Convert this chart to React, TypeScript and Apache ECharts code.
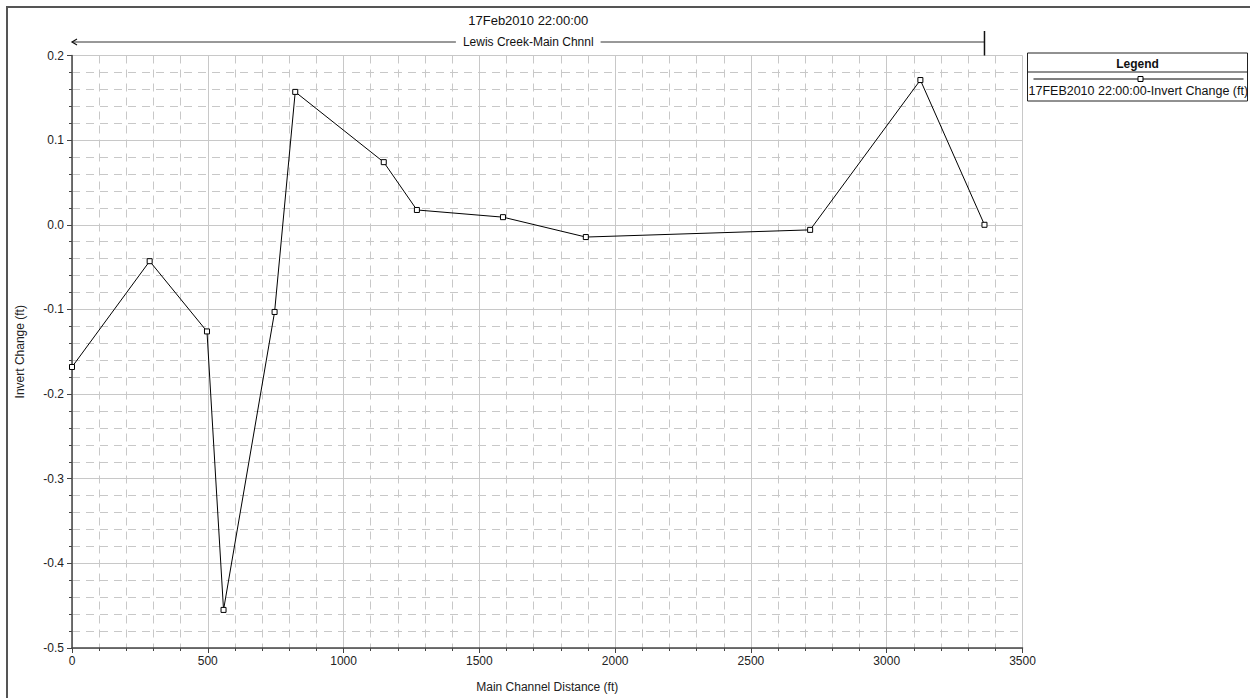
import React, { useEffect, useRef } from "react";
import * as echarts from "echarts";

const chartTitle = "17Feb2010 22:00:00";
const reachName = "Lewis Creek-Main Chnnl";
const seriesName = "17FEB2010 22:00:00-Invert Change (ft)";
const xAxisName = "Main Channel Distance (ft)";
const yAxisName = "Invert Change (ft)";

const stations = [0, 286, 497, 558, 746, 822, 1148, 1270, 1587, 1892, 2718, 3124, 3360];
const invertChange = [-0.168, -0.043, -0.126, -0.455, -0.103, 0.157, 0.074, 0.0175, 0.009, -0.0145, -0.006, 0.171, 0.0];

const FONT = "'Liberation Sans', Arial, sans-serif";

export default function App() {
  const ref = useRef<HTMLDivElement>(null);
  useEffect(() => {
    if (!ref.current) return;
    const chart = echarts.init(ref.current, undefined, { renderer: "svg", width: 1250, height: 698 });
    const gridColor = "#c8c8c8";
    const axisColor = "#444";
    chart.setOption({
      animation: false,
      backgroundColor: "#fff",
      textStyle: { fontFamily: FONT },
      grid: { left: 72, top: 55.5, width: 950.5, height: 597, containLabel: false },
      xAxis: {
        type: "value",
        min: 0,
        max: 3500,
        interval: 500,
        name: xAxisName,
        nameLocation: "middle",
        nameGap: 33,
        nameTextStyle: { fontFamily: FONT, fontSize: 12, color: "#222" },
        axisLine: { show: true, onZero: false, lineStyle: { color: axisColor, width: 1.5 } },
        axisTick: { show: true, length: 5, lineStyle: { color: axisColor } },
        minorTick: { show: true, splitNumber: 5, length: 3, lineStyle: { color: axisColor } },
        axisLabel: { fontFamily: FONT, fontSize: 12, color: "#222", margin: 7, formatter: (v: number) => String(v) },
        splitLine: { show: true, lineStyle: { color: gridColor, width: 1 } },
        minorSplitLine: { show: true, lineStyle: { color: gridColor, width: 1, type: [8, 6] } },
      },
      yAxis: {
        type: "value",
        min: -0.5,
        max: 0.2,
        interval: 0.1,
        name: yAxisName,
        nameLocation: "middle",
        nameGap: 46,
        nameRotate: 90,
        nameTextStyle: { fontFamily: FONT, fontSize: 12, color: "#222" },
        axisLine: { show: true, onZero: false, lineStyle: { color: axisColor, width: 1.5 } },
        axisTick: { show: true, length: 5, lineStyle: { color: axisColor } },
        minorTick: { show: true, splitNumber: 5, length: 3, lineStyle: { color: axisColor } },
        axisLabel: {
          fontFamily: FONT,
          fontSize: 12,
          color: "#222",
          margin: 8,
          formatter: (v: number) => (Math.abs(v) < 1e-9 ? "0.0" : v.toFixed(1)),
        },
        splitLine: { show: true, lineStyle: { color: gridColor, width: 1 } },
        minorSplitLine: { show: true, lineStyle: { color: gridColor, width: 1, type: [8, 6] } },
      },
      series: [
        {
          type: "line",
          name: seriesName,
          data: stations.map((s, i) => [s, invertChange[i]]),
          lineStyle: { color: "#000", width: 1 },
          symbol: "rect",
          symbolSize: 5,
          itemStyle: { color: "#fff", borderColor: "#000", borderWidth: 1 },
          z: 5,
        },
      ],
    });

    const x0 = chart.convertToPixel({ xAxisIndex: 0 }, stations[0]) as number;
    const x1 = chart.convertToPixel({ xAxisIndex: 0 }, stations[stations.length - 1]) as number;
    const xr = chart.convertToPixel({ xAxisIndex: 0 }, 3500) as number;
    const plotTop = chart.convertToPixel({ yAxisIndex: 0 }, 0.2) as number;
    const bracketY = 42;
    const mid = (x0 + xr) / 2 - 19;
    const legX = xr + 5;
    const legW = 220;
    const legY = plotTop - 2.5;

    chart.setOption({
      graphic: [
        {
          type: "rect",
          shape: { x: 7, y: 7, width: 1300, height: 750 },
          style: { fill: "none", stroke: "#555", lineWidth: 2 },
          silent: true,
        },
        {
          type: "text",
          x: (x0 + xr) / 2 - 19,
          y: 20,
          style: { text: chartTitle, font: `13px ${FONT}`, fill: "#111", align: "center", verticalAlign: "middle" },
        },
        {
          type: "line",
          shape: { x1: x0, y1: bracketY, x2: x1, y2: bracketY },
          style: { stroke: "#333", lineWidth: 1 },
        },
        {
          type: "line",
          shape: { x1: x1, y1: 31, x2: x1, y2: plotTop },
          style: { stroke: "#111", lineWidth: 1.5 },
        },
        {
          type: "polyline",
          shape: { points: [[x0 + 5, bracketY - 3], [x0, bracketY], [x0 + 5, bracketY + 3]] },
          style: { stroke: "#111", lineWidth: 1.2, fill: "none" },
        },
        {
          type: "text",
          x: mid,
          y: bracketY,
          style: {
            text: reachName,
            font: `12px ${FONT}`,
            fill: "#111",
            align: "center",
            verticalAlign: "middle",
            backgroundColor: "#fff",
            padding: [0, 7],
          },
        },
        {
          type: "rect",
          shape: { x: legX, y: legY, width: legW, height: 48 },
          style: { fill: "#fff", stroke: "#222", lineWidth: 1 },
        },
        {
          type: "text",
          x: legX + legW / 2,
          y: legY + 11,
          style: { text: "Legend", font: `bold 12px ${FONT}`, fill: "#111", align: "center", verticalAlign: "middle" },
        },
        {
          type: "line",
          shape: { x1: legX, y1: legY + 19, x2: legX + legW, y2: legY + 19 },
          style: { stroke: "#222", lineWidth: 1 },
        },
        {
          type: "line",
          shape: { x1: legX + 6, y1: legY + 26, x2: legX + legW - 4, y2: legY + 26 },
          style: { stroke: "#000", lineWidth: 1 },
        },
        {
          type: "rect",
          shape: { x: legX + legW / 2 + 0.5, y: legY + 23.5, width: 5, height: 5 },
          style: { fill: "#fff", stroke: "#000", lineWidth: 1 },
        },
        {
          type: "text",
          x: legX + 1,
          y: legY + 38,
          style: { text: seriesName, font: `12.5px ${FONT}`, fill: "#111", align: "left", verticalAlign: "middle" },
        },
      ],
    });

    return () => chart.dispose();
  }, []);
  return (
    <div
      ref={ref}
      style={{ position: "fixed", left: 0, top: 0, width: 1250, height: 698, background: "#fff" }}
    />
  );
}
